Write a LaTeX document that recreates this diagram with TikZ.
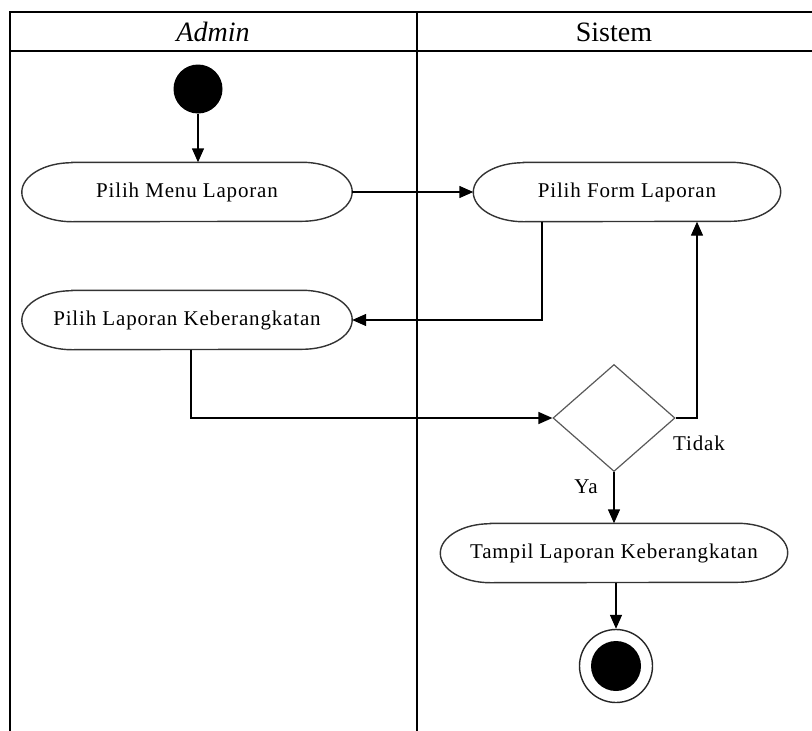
\documentclass[tikz,border=0pt]{standalone}
\usepackage{fontspec}
\setmainfont{Liberation Serif}
\newfontfamily\nodefont[LetterSpace=4]{Liberation Serif}
\usetikzlibrary{shapes.geometric,arrows.meta}

\tikzset{
  lane/.style={line width=2.2pt, black},
  head/.style={font=\fontsize{28}{30}\selectfont, inner sep=0pt},
  actbox/.style={draw=none, minimum height=59pt, inner sep=0pt,
                 font=\nodefont\fontsize{21}{23}\selectfont},
  capline/.style={line width=1.4pt, draw=black!80},
  decision/.style={diamond, draw=black!65, line width=1.2pt,
                   minimum width=122pt, minimum height=107pt, inner sep=0pt},
  flow/.style={line width=1.4pt, -{Triangle[length=14pt,width=12pt]}},
  guard/.style={font=\nodefont\fontsize{21}{23}\selectfont, inner sep=0pt},
}

% rounded activity outline drawn around a named node
\newcommand\capsule[1]{%
  \draw[capline] ([xshift=50pt]#1.north west) -- ([xshift=-50pt]#1.north east)
    arc[start angle=90, end angle=-90, x radius=50pt, y radius=29.5pt]
    -- ([xshift=50pt]#1.south west)
    arc[start angle=270, end angle=90, x radius=50pt, y radius=29.5pt]
    -- cycle;}

\begin{document}
\begin{tikzpicture}[x=1pt, y=-1pt]
  \useasboundingbox (0,0) rectangle (812,731);

  % swimlane frame
  \draw[lane] (10,731) -- (10,12) -- (812,12);
  \draw[lane] (10,51) -- (812,51);
  \draw[lane] (417,12) -- (417,731);
  \node[head] (hadmin) at (213,32) {\itshape Admin};
  \node[head] (hsistem) at (614,32) {Sistem};

  % initial state
  \node[circle, fill=black, minimum size=49pt, inner sep=0pt] (start) at (198,89) {};

  % activities
  \node[actbox, minimum width=330pt] (menu) at (187,192) {Pilih Menu Laporan};
  \node[actbox, minimum width=307pt] (form) at (627,192) {Pilih Form Laporan};
  \node[actbox, minimum width=330pt] (kb) at (187,320) {Pilih Laporan Keberangkatan};
  \node[actbox, minimum width=347pt] (tampil) at (614,553) {Tampil Laporan Keberangkatan};
  \capsule{menu}
  \capsule{form}
  \capsule{kb}
  \capsule{tampil}

  % decision
  \node[decision] (dec) at (614,418) {};

  % final state
  \node[circle, draw=black!85, line width=1.4pt, minimum size=73pt, inner sep=0pt] (end) at (616,666) {};
  \node[circle, fill=black, minimum size=50pt, inner sep=0pt] (endin) at (end.center) {};

  % flows
  \draw[flow] (start) -- (start |- menu.north);
  \draw[flow] (menu.east) -- (form.west);
  \draw[flow] ([xshift=-85pt]form.south) |- (kb.east);
  \draw[flow] ([xshift=4pt]kb.south) |- (dec.west);
  \draw[flow] (dec.east) -| ([xshift=70pt]form.south);
  \draw[flow] (dec.south) -- (tampil.north);
  \draw[flow] ([xshift=2pt]tampil.south) -- (end.north);

  % guards
  \node[guard] (tidak) at (699,443) {Tidak};
  \node[guard] (ya) at (586,487) {Ya};
\end{tikzpicture}
\end{document}
